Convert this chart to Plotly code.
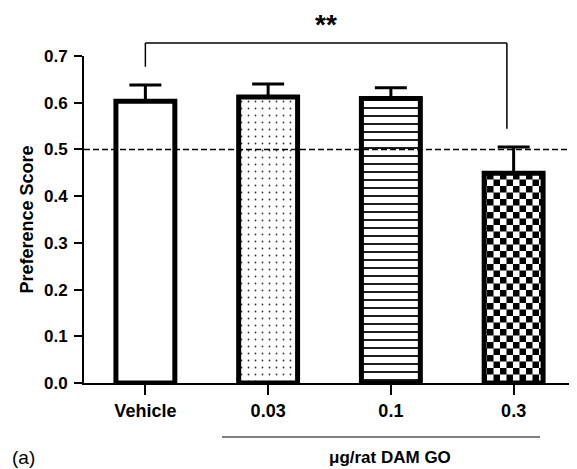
import plotly.graph_objects as go

# ---- data ----
categories = ["Vehicle", "0.03", "0.1", "0.3"]
means = [0.603, 0.612, 0.609, 0.449]
sem = [0.035, 0.028, 0.023, 0.056]
y_tickvals = [0.0, 0.1, 0.2, 0.3, 0.4, 0.5, 0.6, 0.7]
y_ticktext = ["0.0", "0.1", "0.2", "0.3", "0.4", "0.5", "0.6", "0.7"]
chance_level = 0.5
sig_label = "**"
group_label = "μg/rat DAM GO"
panel_label = "(a)"
y_title = "Preference Score"

FONT = "Liberation Sans, Arial, sans-serif"
Y_MAX = 0.7
X_MIN, X_MAX = -0.5, 3.5
PLOT_L, PLOT_T, PLOT_W, PLOT_H = 84, 56, 491, 327  # page pixel geometry of plot area


def px_x(v):
    return (v - X_MIN) / (X_MAX - X_MIN)


def py_y(v):
    return v / Y_MAX


def page_x(p):
    return (p - PLOT_L) / PLOT_W


def page_y(p):
    return (PLOT_T + PLOT_H - p) / PLOT_H


def checker_pattern():
    s = 13
    h = s / 2
    path = f"M0,0H{h}V{h}H0Z M{h},{h}H{s}V{s}H{h}Z"
    try:
        go.bar.marker.Pattern(path=path)
        return dict(path=path, size=s, fgcolor="black", bgcolor="white", solidity=1, fgopacity=1)
    except Exception:
        return dict(shape="x", size=9, solidity=0.45, fgcolor="black", bgcolor="white", fgopacity=1)


patterns = [
    dict(shape=""),
    dict(shape=".", size=7, solidity=0.05, fgcolor="#333333", bgcolor="white", fgopacity=1),
    dict(shape="-", size=8, solidity=0.22, fgcolor="black", bgcolor="white", fgopacity=1),
    checker_pattern(),
]

fig = go.Figure()
for i, cat in enumerate(categories):
    fig.add_trace(go.Bar(
        x=[cat], y=[means[i]], width=0.48,
        marker=dict(color="white", line=dict(color="black", width=5), pattern=patterns[i]),
        error_y=dict(type="data", symmetric=False, array=[sem[i]], arrayminus=[0],
                     color="black", thickness=3, width=16),
        showlegend=False, hoverinfo="skip",
    ))

shapes = []
shapes.append(dict(type="line", xref="paper", yref="y", x0=0, x1=1, y0=chance_level, y1=chance_level,
                   line=dict(color="black", width=1.5, dash="6px,3px"), layer="above"))
i_a, i_b = 0, 3
bracket_y = 0.728
gap = 0.039
xa = px_x(i_a)
xb = px_x(i_b - 0.055)
bl = dict(color="black", width=1.5)
shapes.append(dict(type="line", xref="paper", yref="paper", x0=xa, x1=xb,
                   y0=py_y(bracket_y), y1=py_y(bracket_y), line=bl))
shapes.append(dict(type="line", xref="paper", yref="paper", x0=xa, x1=xa,
                   y0=py_y(means[i_a] + sem[i_a] + gap), y1=py_y(bracket_y), line=bl))
shapes.append(dict(type="line", xref="paper", yref="paper", x0=xb, x1=xb,
                   y0=py_y(means[i_b] + sem[i_b] + gap), y1=py_y(bracket_y), line=bl))
shapes.append(dict(type="line", xref="paper", yref="paper", x0=page_x(222), x1=page_x(540),
                   y0=page_y(437), y1=page_y(437), line=dict(color="black", width=1.2)))

annotations = [
    dict(text=sig_label, xref="paper", yref="paper", x=(xa + xb) / 2, y=page_y(24), yanchor="middle",
         showarrow=False, font=dict(family=FONT, size=28, color="black", weight="bold")),
    dict(text=group_label, xref="paper", yref="paper", x=page_x(390), y=page_y(457), yanchor="middle",
         showarrow=False, font=dict(family=FONT, size=17, color="black", weight="bold")),
    dict(text=panel_label, xref="paper", yref="paper", x=page_x(10), xanchor="left",
         y=page_y(457), yanchor="middle", showarrow=False,
         font=dict(family=FONT, size=19, color="black")),
]

# page body has an 8px margin, so the figure is sized to fit the 577x469 window
fig.update_layout(
    width=569, height=461,
    margin=dict(l=PLOT_L - 8, r=569 - (PLOT_L - 8) - PLOT_W, t=PLOT_T - 8, b=461 - (PLOT_T - 8) - PLOT_H),
    paper_bgcolor="white", plot_bgcolor="white",
    barmode="overlay",
    font=dict(family=FONT, color="black"),
    shapes=shapes, annotations=annotations,
    xaxis=dict(type="category", categoryorder="array", categoryarray=categories,
               range=[X_MIN, X_MAX], showline=True, linecolor="black", linewidth=2,
               ticks="outside", ticklen=10, tickwidth=2, tickcolor="black",
               tickfont=dict(family=FONT, size=18, color="black", weight="bold"),
               showgrid=False, zeroline=False, fixedrange=True),
    yaxis=dict(range=[0, Y_MAX], tickvals=y_tickvals, ticktext=y_ticktext,
               showline=True, linecolor="black", linewidth=2,
               ticks="outside", ticklen=8, tickwidth=2, tickcolor="black", ticklabelstandoff=3,
               tickfont=dict(family=FONT, size=17, color="black", weight="bold"),
               title=dict(text=y_title, standoff=6,
                          font=dict(family=FONT, size=18, color="black", weight="bold")),
               showgrid=False, zeroline=False, fixedrange=True),
)

fig.write_html("out.html")
